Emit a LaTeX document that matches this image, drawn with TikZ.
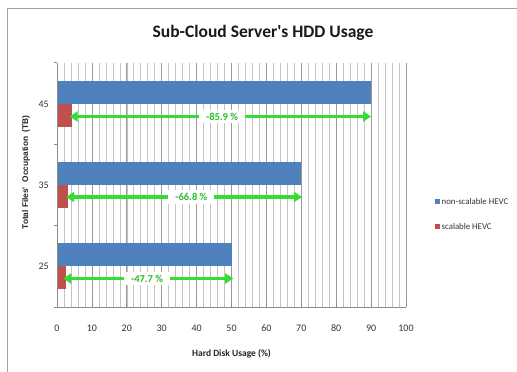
\documentclass[tikz,border=0pt]{standalone}
\usepackage{fontspec}
\setmainfont{Carlito}
\newfontfamily\axisfont{Liberation Sans}
\usetikzlibrary{arrows.meta}
\definecolor{barblue}{HTML}{4F81BD}
\definecolor{barred}{HTML}{C0504D}
\definecolor{deltagreen}{HTML}{33DD33}
\definecolor{minorgrid}{HTML}{C4C4C4}
\definecolor{majorgrid}{HTML}{9A9A9A}
\definecolor{axisgray}{HTML}{8C8C8C}

\tikzset{
  frameline/.style={draw=axisgray!80, line width=0.9pt},
  minorline/.style={draw=minorgrid, line width=0.6pt},
  majorline/.style={draw=majorgrid, line width=0.7pt},
  axisline/.style={draw=axisgray, line width=0.8pt},
  ticklabel/.style={font=\fontsize{10}{12}\selectfont, text=black!80, inner sep=0pt},
  legendtext/.style={font=\fontsize{8.8}{10}\selectfont, text=black!80, anchor=west, inner sep=0pt},
  deltaarrow/.style={draw=deltagreen, line width=3.4pt,
    {Triangle[length=8pt,width=10pt]}-{Triangle[length=8pt,width=10pt]}},
  deltalabel/.style={fill=white, text=deltagreen!85!black, inner xsep=7pt, inner ysep=3pt,
    font=\bfseries\fontsize{10.5}{12}\selectfont}
}

\begin{document}
\begin{tikzpicture}[x=1pt, y=-1pt]
\useasboundingbox (0,0) rectangle (517,372);
\fill[white] (0,0) rectangle (517,372);

% sheet frame
\draw[frameline] (7,372) -- (7,8) -- (517,8);

% title
\node[text=black!90] (title) at (263,33)
  {\bfseries\fontsize{17.5}{20}\selectfont Sub-Cloud Server\textquotesingle s HDD Usage};

% plot area: 0..100 % mapped to x = 57..406
\begin{scope}[xshift=57pt, x=3.49pt]
  % vertical grid
  \foreach \v in {2,4,...,100} \draw[minorline] (\v,62.7) -- (\v,307);
  \foreach \v in {10,20,...,100} \draw[majorline] (\v,62.7) -- (\v,307);

  % bars
  \fill[barblue] (0,80.7)  rectangle (90,104);
  \fill[barred]  (0,104)   rectangle (4.2,127.3);
  \fill[barblue] (0,161.7) rectangle (70,185);
  \fill[barred]  (0,185)   rectangle (3.2,208.3);
  \fill[barblue] (0,242.7) rectangle (50,265.7);
  \fill[barred]  (0,265.7) rectangle (2.5,289);

  % axes and ticks
  \draw[axisline] (0,62.7) -- (0,307) -- (100,307);
  \foreach \y in {62.7,144.1,225.5,307} \draw[axisline] (0,\y) -- ++(-3pt,0);
  \foreach \v in {0,10,...,100} {
    \draw[axisline] (\v,307) -- ++(0,5pt);
    \node[ticklabel] (xt\v) at (\v,328) {\v};
  }

  % category labels
  \node[ticklabel, anchor=east] (c45) at (-2.3,104) {45};
  \node[ticklabel, anchor=east] (c35) at (-2.3,185.5) {35};
  \node[ticklabel, anchor=east] (c25) at (-2.3,266.5) {25};

  % reduction arrows
  \coordinate (d45a) at (3.6,116.5);  \coordinate (d45b) at (90,116.5);
  \coordinate (d35a) at (2.6,197);    \coordinate (d35b) at (70.2,197);
  \coordinate (d25a) at (1.8,278.5);  \coordinate (d25b) at (50.5,278.5);
  \draw[deltaarrow] (d45a) -- (d45b);
  \draw[deltaarrow] (d35a) -- (d35b);
  \draw[deltaarrow] (d25a) -- (d25b);
  \node[deltalabel] (l45) at (47.3,116.5) {-85.9 \%};
  \node[deltalabel] (l35) at (38.5,197) {-66.8 \%};
  \node[deltalabel] (l25) at (25.8,278.5) {-47.7 \%};
\end{scope}

% axis titles
\node[rotate=90, font=\axisfont\bfseries\fontsize{8.3}{10}\selectfont, text=black!85] (ytitle)
  at (26,172.5) {Total Files'\ \ Occupation\ \ (TB)};
\node[font=\bfseries\fontsize{9.5}{11}\selectfont, text=black!85] (xtitle)
  at (231.5,354) {Hard Disk Usage (\%)};

% legend
\fill[barblue] (434.5,198.5) rectangle (439.5,203.5);
\node[legendtext] (lg1) at (441.5,201) {non-scalable HEVC};
\fill[barred] (434.5,224) rectangle (439.5,229);
\node[legendtext] (lg2) at (441.5,226.5) {scalable HEVC};
\end{tikzpicture}
\end{document}
